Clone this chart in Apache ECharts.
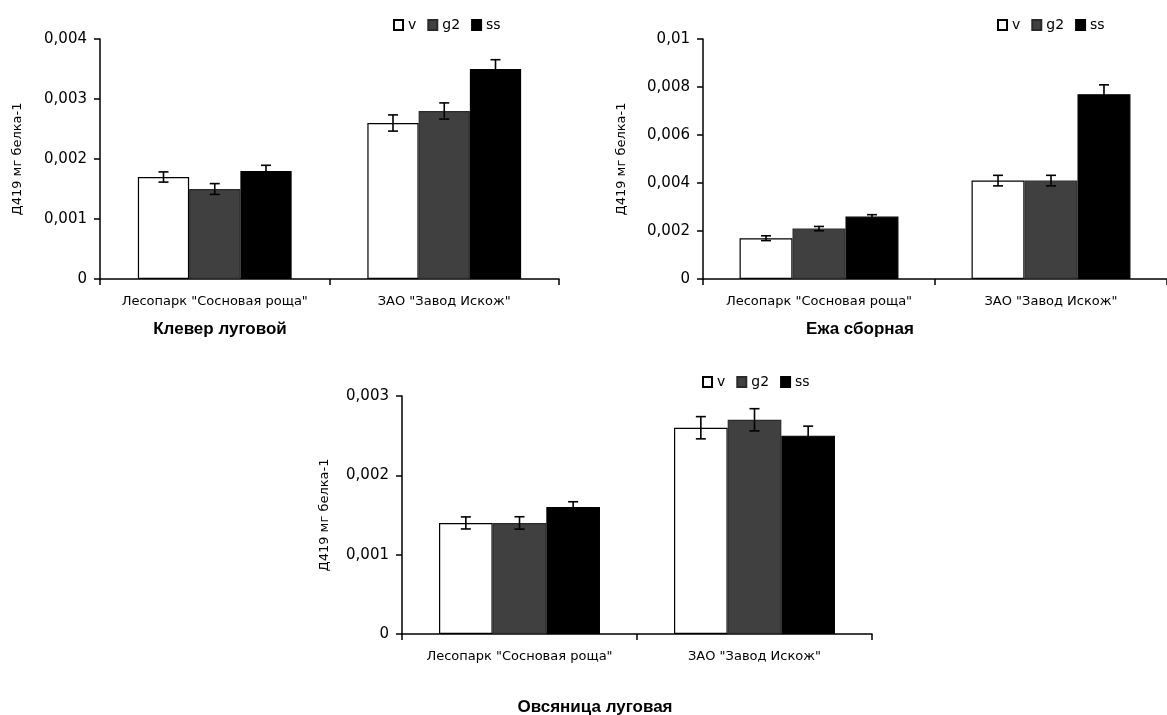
<!DOCTYPE html>
<html>
<head>
<meta charset="utf-8">
<script src="https://cdn.jsdelivr.net/npm/echarts@6/dist/echarts.min.js"></script>
<style>
  html, body { margin: 0; padding: 0; background: #fff; }
  #chart { width: 1167px; height: 715px; }
</style>
</head>
<body>
<div id="chart"></div>
<script>
// ---- data ----
const categories = ['Лесопарк "Сосновая роща"', 'ЗАО "Завод Искож"'];
const seriesNames = ['v', 'g2', 'ss'];
const titles = ['Клевер луговой', 'Ежа сборная', 'Овсяница луговая'];
const yAxisName = 'Д419 мг белка-1';

// Клевер луговой
const klever_v = [0.0017, 0.0026];
const klever_g2 = [0.0015, 0.0028];
const klever_ss = [0.0018, 0.0035];
const klever_v_err = [0.000085, 0.000135];
const klever_g2_err = [0.00009, 0.000135];
const klever_ss_err = [0.000095, 0.000155];
const klever_ticks = [0, 0.001, 0.002, 0.003, 0.004];

// Ежа сборная
const ezha_v = [0.0017, 0.0041];
const ezha_g2 = [0.0021, 0.0041];
const ezha_ss = [0.0026, 0.0077];
const ezha_v_err = [0.0001, 0.00022];
const ezha_g2_err = [0.00009, 0.00022];
const ezha_ss_err = [0.00008, 0.00039];
const ezha_ticks = [0, 0.002, 0.004, 0.006, 0.008, 0.01];

// Овсяница луговая
const ovs_v = [0.0014, 0.0026];
const ovs_g2 = [0.0014, 0.0027];
const ovs_ss = [0.0016, 0.0025];
const ovs_v_err = [0.000076, 0.00014];
const ovs_g2_err = [0.000078, 0.00014];
const ovs_ss_err = [0.000067, 0.00012];
const ovs_ticks = [0, 0.001, 0.002, 0.003];

// ---- build ----
const FONT = 'DejaVu Sans, Liberation Sans, Arial, sans-serif';
const TFONT = 'Liberation Sans, Arial, sans-serif';
const colors = ['#ffffff', '#404040', '#000000'];
const borders = ['#000000', '#2a2a2a', '#000000'];

const charts = [
  { vals: [klever_v, klever_g2, klever_ss], errs: [klever_v_err, klever_g2_err, klever_ss_err], ticks: klever_ticks,
    grid: { left: 100, top: 39, width: 459, height: 240 }, gap: 0.33, nameGap: 76,
    legend: { left: 388, top: 13 }, title: { left: 215, top: 316 } },
  { vals: [ezha_v, ezha_g2, ezha_ss], errs: [ezha_v_err, ezha_g2_err, ezha_ss_err], ticks: ezha_ticks,
    grid: { left: 703, top: 39, width: 470, height: 240 }, gap: 0.315, nameGap: 75,
    legend: { left: 992, top: 13 }, title: { left: 855, top: 316 } },
  { vals: [ovs_v, ovs_g2, ovs_ss], errs: [ovs_v_err, ovs_g2_err, ovs_ss_err], ticks: ovs_ticks,
    grid: { left: 402, top: 396, width: 470, height: 238 }, gap: 0.315, nameGap: 71,
    legend: { left: 697, top: 370 }, title: { left: 590, top: 694 } }
];

const option = {
  animation: false,
  backgroundColor: '#fff',
  textStyle: { fontFamily: FONT },
  title: [], legend: [], grid: [], xAxis: [], yAxis: [], series: []
};

charts.forEach((ch, gi) => {
  option.title.push({
    text: titles[gi], left: ch.title.left, top: ch.title.top, textAlign: 'center',
    textStyle: { fontFamily: TFONT, fontSize: 17, fontWeight: 'bold', color: '#000' }
  });
  option.legend.push({
    data: seriesNames, left: ch.legend.left, top: ch.legend.top, orient: 'horizontal',
    icon: 'rect', itemWidth: 9, itemHeight: 10, itemGap: 11, itemTextGap: 3,
    textStyle: { fontFamily: FONT, fontSize: 14, color: '#000' }, selectedMode: false
  });
  option.grid.push(Object.assign({ containLabel: false }, ch.grid));
  option.xAxis.push({
    type: 'category', gridIndex: gi, data: categories,
    axisLine: { lineStyle: { color: '#000', width: 1.5 } },
    axisTick: { show: true, length: 6, lineStyle: { color: '#000', width: 1.5 } },
    axisLabel: { fontFamily: FONT, fontSize: 13, color: '#000', margin: 16, interval: 0 },
    splitLine: { show: false }
  });
  const tks = ch.ticks;
  option.yAxis.push({
    type: 'value', gridIndex: gi, min: tks[0], max: tks[tks.length - 1], interval: tks[1] - tks[0],
    name: yAxisName, nameLocation: 'middle', nameRotate: 90, nameGap: ch.nameGap,
    nameTextStyle: { fontFamily: FONT, fontSize: 13, color: '#000' },
    axisLine: { show: true, lineStyle: { color: '#000', width: 1.5 } },
    axisTick: { show: true, length: 6, lineStyle: { color: '#000', width: 1.5 } },
    axisLabel: { fontFamily: FONT, fontSize: 15, color: '#000', margin: 13,
      formatter: v => String(+v.toFixed(4)).replace('.', ',') },
    splitLine: { show: false }
  });
  seriesNames.forEach((nm, si) => {
    option.series.push({
      type: 'bar', name: nm, xAxisIndex: gi, yAxisIndex: gi,
      data: ch.vals[si], barGap: '0%', barCategoryGap: (ch.gap * 100) + '%',
      itemStyle: { color: colors[si], borderColor: borders[si], borderWidth: 1.2 }
    });
  });
  const errData = [];
  seriesNames.forEach((nm, si) => {
    ch.vals[si].forEach((v, ci) => errData.push([ci, v, ch.errs[si][ci], si]));
  });
  const gap = ch.gap;
  option.series.push({
    type: 'custom', xAxisIndex: gi, yAxisIndex: gi, z: 10, silent: true,
    data: errData,
    renderItem: function (params, api) {
      const ci = api.value(0), v = api.value(1), e = api.value(2), k = api.value(3);
      const c = api.coord([ci, v]);
      const catW = api.size([1, 0])[0];
      const bw = catW * (1 - gap) / 3;
      const x = c[0] + (k - 1) * bw;
      const yt = api.coord([ci, v + e])[1];
      const yb = api.coord([ci, v - e])[1];
      const cap = 5;
      const st = { stroke: '#000', lineWidth: 1.6 };
      return {
        type: 'group',
        children: [
          { type: 'line', shape: { x1: x, y1: yt, x2: x, y2: yb }, style: st },
          { type: 'line', shape: { x1: x - cap, y1: yt, x2: x + cap, y2: yt }, style: st },
          { type: 'line', shape: { x1: x - cap, y1: yb, x2: x + cap, y2: yb }, style: st }
        ]
      };
    }
  });
});

const chart = echarts.init(document.getElementById('chart'), null, { renderer: 'canvas' });
chart.setOption(option);
</script>
</body>
</html>
